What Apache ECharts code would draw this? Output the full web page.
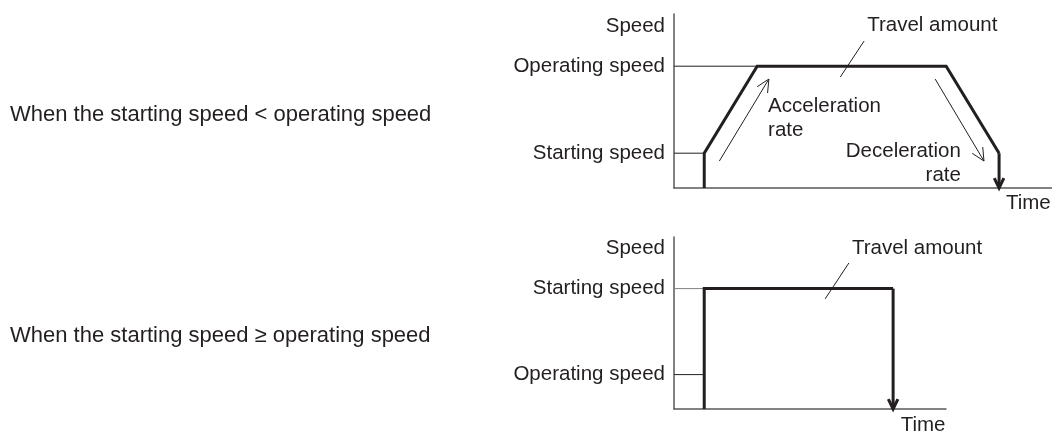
<!DOCTYPE html>
<html>
<head>
<meta charset="utf-8">
<script src="https://cdn.jsdelivr.net/npm/echarts@6/dist/echarts.min.js"></script>
<style>
  html, body { margin: 0; padding: 0; background: #fff; }
  #chart { width: 1052px; height: 432px; }
</style>
</head>
<body>
<div id="chart"></div>
<script>
// speed levels (0-10 scale) and time points (px-ish units)
var topSpeedLabels = { 2: 'Starting speed', 7: 'Operating speed' };
var botSpeedLabels = { 7: 'Starting speed', 2: 'Operating speed' };

// top: starting speed < operating speed
var topProfile = [[8, 0], [8, 2], [22, 7], [72, 7], [86, 2]];
var topDrop = [[86, 2, 86, 0]];
var topRefLines = [[[0, 7], [22, 7]], [[0, 2], [8, 2]]];
var topLeader = [[44, 6.38], [50.3, 8.45]];
var topThinArrows = [[12, 1.55, 25.1, 6.26], [69.1, 6.26, 82, 1.55]];
var topTexts = [
  { name: 'Speed', value: [0, 9.31], pos: 'left' },
  { name: 'Travel amount', value: [51.1, 9.37], pos: 'right' },
  { name: 'Acceleration\nrate', value: [24.9, 4.02], pos: 'right' },
  { name: 'Deceleration\nrate', value: [75.9, 1.41], pos: 'left' },
  { name: 'Time', value: [87.8, -0.86], pos: 'right' }
];

// bottom: starting speed >= operating speed
var botProfile = [[8, 0], [8, 7], [58, 7]];
var botDrop = [[58, 7, 58, 0]];
var botRefLines = [[[0, 7], [8, 7]], [[0, 2], [8, 2]]];
var botLeader = [[40, 6.4], [46.3, 8.49]];
var botTexts = [
  { name: 'Speed', value: [0, 9.36], pos: 'left' },
  { name: 'Travel amount', value: [47.1, 9.36], pos: 'right' },
  { name: 'Time', value: [60, -0.93], pos: 'right' }
];

var ink = '#231f20';
var axisGray = '#58595b';
var font = '"Liberation Sans", Arial, Helvetica, sans-serif';

var chart = echarts.init(document.getElementById('chart'));

function arrowSeries(idx, data, width, head) {
  return {
    type: 'custom',
    xAxisIndex: idx,
    yAxisIndex: idx,
    clip: false,
    silent: true,
    data: data,
    renderItem: function (params, api) {
      var p0 = api.coord([api.value(0), api.value(1)]);
      var p1 = api.coord([api.value(2), api.value(3)]);
      var a = Math.atan2(p1[1] - p0[1], p1[0] - p0[0]);
      var s = 0.45;
      var h1 = [p1[0] - head * Math.cos(a - s), p1[1] - head * Math.sin(a - s)];
      var h2 = [p1[0] - head * Math.cos(a + s), p1[1] - head * Math.sin(a + s)];
      var st = { stroke: ink, lineWidth: width, fill: null };
      return {
        type: 'group',
        children: [
          { type: 'line', shape: { x1: p0[0], y1: p0[1], x2: p1[0], y2: p1[1] }, style: st },
          { type: 'polyline', shape: { points: [h1, p1, h2] }, style: st }
        ]
      };
    }
  };
}

function lineSeries(idx, data, width, color) {
  return {
    type: 'line', xAxisIndex: idx, yAxisIndex: idx, data: data,
    symbol: 'none', silent: true, clip: false,
    lineStyle: { color: color, width: width, join: 'miter' }
  };
}

function textSeries(idx, data) {
  return {
    type: 'scatter', xAxisIndex: idx, yAxisIndex: idx, symbolSize: 0,
    clip: false, silent: true,
    itemStyle: { opacity: 1 },
    data: data.map(function (d) {
      return {
        value: d.value,
        label: {
          show: true, formatter: d.name, position: d.pos,
          distance: d.pos === 'left' && d.value[0] === 0 ? 9 : 0,
          align: d.pos === 'left' ? 'right' : 'left',
          color: ink, opacity: 1, fontSize: 20.5, fontFamily: font, lineHeight: 24
        }
      };
    })
  };
}

function yAxisFor(idx, labels) {
  return {
    type: 'value', gridIndex: idx, min: 0, max: 10, interval: 1,
    axisLine: { show: true, lineStyle: { color: axisGray, width: 1.5 } },
    axisTick: { show: false },
    splitLine: { show: false },
    axisLabel: {
      margin: 9, color: ink, fontSize: 20.5, fontFamily: font,
      formatter: function (v) { return labels[v] || ''; }
    }
  };
}

function xAxisFor(idx, max) {
  return {
    type: 'value', gridIndex: idx, min: 0, max: max,
    axisLine: { show: true, lineStyle: { color: axisGray, width: 1.5 } },
    axisTick: { show: false },
    axisLabel: { show: false },
    splitLine: { show: false }
  };
}

var option = {
  animation: false,
  backgroundColor: '#fff',
  title: [
    { text: 'When the starting speed < operating speed', left: 5, top: 99,
      textStyle: { color: ink, fontSize: 22, fontWeight: 'normal', fontFamily: font } },
    { text: 'When the starting speed \u2265 operating speed', left: 5, top: 320,
      textStyle: { color: ink, fontSize: 22, fontWeight: 'normal', fontFamily: font } }
  ],
  grid: [
    { left: 674, top: 14, width: 378, height: 174 },
    { left: 674, top: 237, width: 272, height: 172 }
  ],
  xAxis: [xAxisFor(0, 100), xAxisFor(1, 72)],
  yAxis: [yAxisFor(0, topSpeedLabels), yAxisFor(1, botSpeedLabels)],
  series: [
    lineSeries(0, topRefLines[0], 1, ink),
    lineSeries(0, topRefLines[1], 1, ink),
    lineSeries(0, topLeader, 1, ink),
    lineSeries(0, topProfile, 3, ink),
    arrowSeries(0, topDrop, 3, 11),
    arrowSeries(0, topThinArrows, 1, 14),
    textSeries(0, topTexts),
    lineSeries(1, botRefLines[0], 1, '#808285'),
    lineSeries(1, botRefLines[1], 1, ink),
    lineSeries(1, botLeader, 1, ink),
    lineSeries(1, botProfile, 3, ink),
    arrowSeries(1, botDrop, 3, 11),
    textSeries(1, botTexts)
  ]
};

chart.setOption(option);
</script>
</body>
</html>
